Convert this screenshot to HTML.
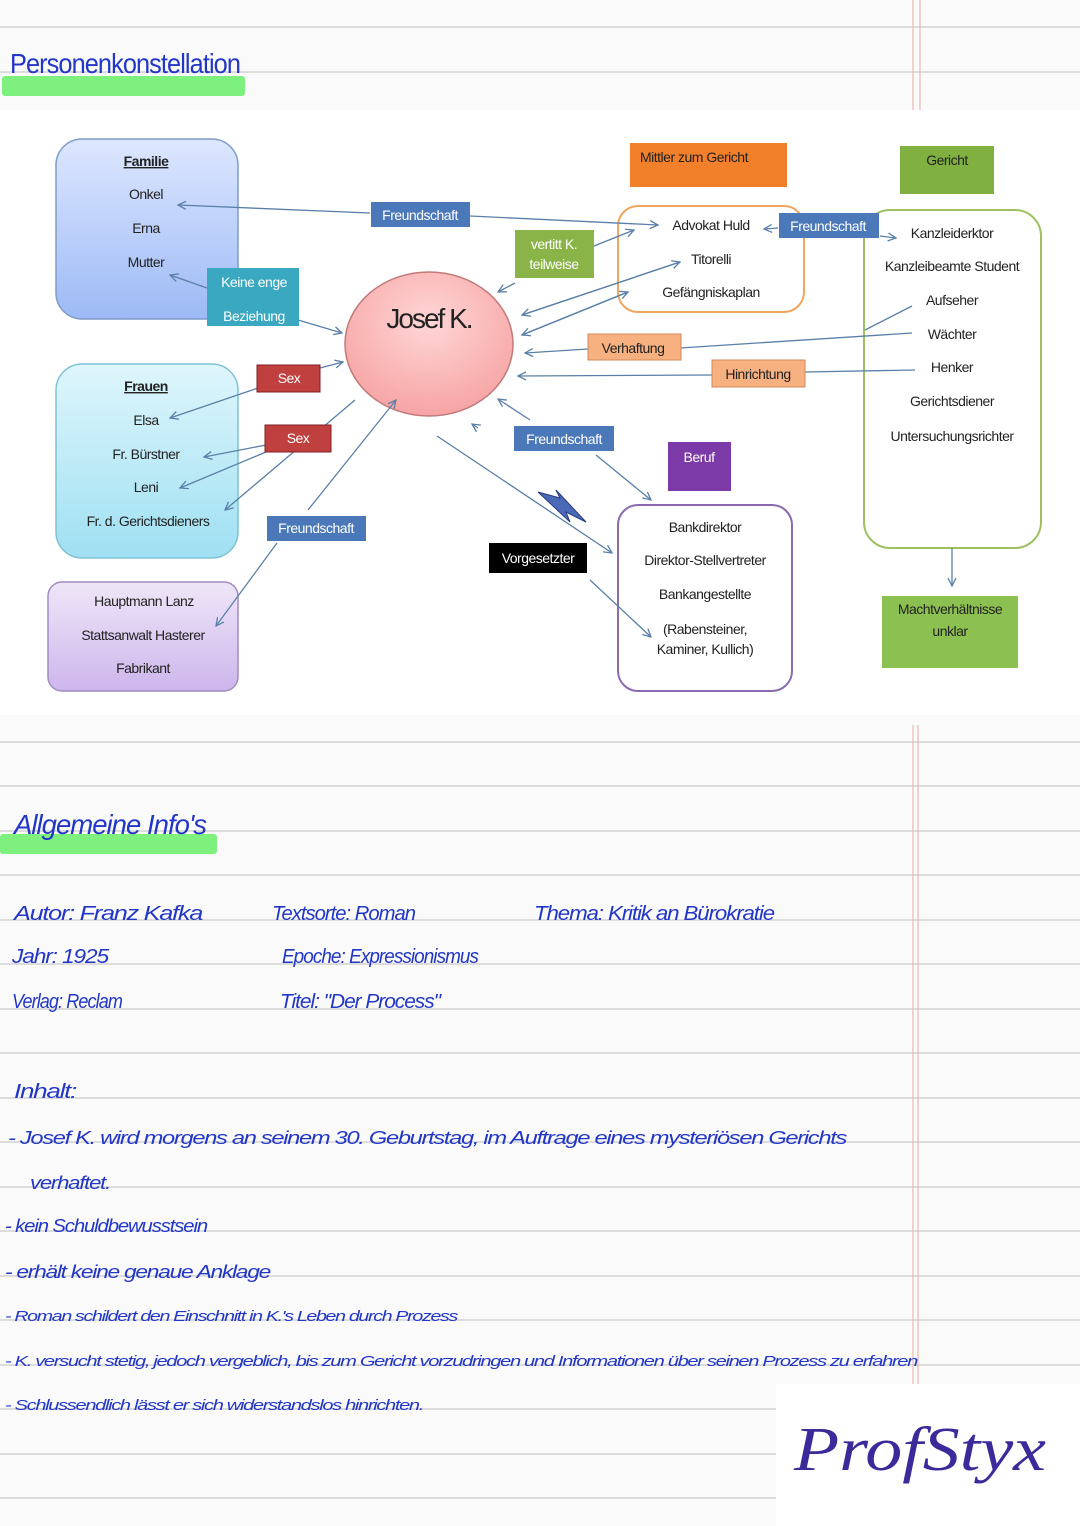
<!DOCTYPE html>
<html><head><meta charset="utf-8"><style>
html,body{margin:0;padding:0;background:#fafafa}
svg{display:block}
.t{font-family:"Liberation Sans",sans-serif;font-size:14px;fill:#222;letter-spacing:-0.5px}
.w{font-family:"Liberation Sans",sans-serif;font-size:14px;fill:#fff;letter-spacing:-0.5px}
.h{font-family:"Liberation Sans",sans-serif;font-style:italic;fill:#2236c8;font-size:20px;letter-spacing:-1px}
</style></head><body>
<svg width="1080" height="1526" viewBox="0 0 1080 1526" xmlns="http://www.w3.org/2000/svg">
<defs>
<marker id="a" markerWidth="10" markerHeight="10" refX="9" refY="5" orient="auto" markerUnits="userSpaceOnUse"><path d="M1,1 L9,5 L1,9" fill="none" stroke="#5a7fa8" stroke-width="1.3"/></marker>
<linearGradient id="fam" x1="0" y1="0" x2="0" y2="1"><stop offset="0" stop-color="#dde7ff"/><stop offset="1" stop-color="#9dbaf5"/></linearGradient>
<linearGradient id="fra" x1="0" y1="0" x2="0" y2="1"><stop offset="0" stop-color="#dff6fc"/><stop offset="1" stop-color="#9fe0f2"/></linearGradient>
<linearGradient id="hau" x1="0" y1="0" x2="0" y2="1"><stop offset="0" stop-color="#efe6f8"/><stop offset="1" stop-color="#cdb6ec"/></linearGradient>
<radialGradient id="jo" cx="0.5" cy="0.35" r="0.7"><stop offset="0" stop-color="#ffd6d6"/><stop offset="1" stop-color="#f6a0a0"/></radialGradient>
</defs>
<rect width="1080" height="1526" fill="#fafafa"/>
<g stroke="#dcdcdc" stroke-width="2">
<line x1="0" y1="27" x2="1080" y2="27"/><line x1="0" y1="72" x2="1080" y2="72"/>
</g>
<g stroke="#eab8b0" stroke-width="1.2"><line x1="913" y1="0" x2="913" y2="110"/><line x1="920" y1="0" x2="920" y2="110"/></g>
<rect x="0" y="110" width="1080" height="605" fill="#fff"/>
<g stroke="#dcdcdc" stroke-width="2">
<line x1="0" y1="742" x2="1080" y2="742"/><line x1="0" y1="786" x2="1080" y2="786"/><line x1="0" y1="831" x2="1080" y2="831"/><line x1="0" y1="875" x2="1080" y2="875"/><line x1="0" y1="920" x2="1080" y2="920"/><line x1="0" y1="964" x2="1080" y2="964"/><line x1="0" y1="1009" x2="1080" y2="1009"/><line x1="0" y1="1053" x2="1080" y2="1053"/><line x1="0" y1="1098" x2="1080" y2="1098"/><line x1="0" y1="1142" x2="1080" y2="1142"/><line x1="0" y1="1187" x2="1080" y2="1187"/><line x1="0" y1="1231" x2="1080" y2="1231"/><line x1="0" y1="1276" x2="1080" y2="1276"/><line x1="0" y1="1320" x2="1080" y2="1320"/><line x1="0" y1="1365" x2="1080" y2="1365"/><line x1="0" y1="1409" x2="1080" y2="1409"/><line x1="0" y1="1454" x2="1080" y2="1454"/><line x1="0" y1="1498" x2="1080" y2="1498"/>
</g>
<g stroke="#eab8b0" stroke-width="1.2"><line x1="913" y1="725" x2="913" y2="1526"/><line x1="918" y1="725" x2="918" y2="1526"/></g>

<!-- titles -->
<rect x="2" y="76" width="243" height="20" rx="3" fill="#7ef07e"/>
<text x="10" y="73" class="h" style="font-size:28px;font-style:normal" textLength="230" lengthAdjust="spacingAndGlyphs">Personenkonstellation</text>
<rect x="0" y="834" width="217" height="20" rx="3" fill="#7ef07e"/>
<text x="14" y="834" class="h" style="font-size:28px" textLength="192" lengthAdjust="spacingAndGlyphs">Allgemeine Info's</text>

<!-- diagram boxes -->
<rect x="56" y="139" width="182" height="180" rx="26" fill="url(#fam)" stroke="#7f9cc8" stroke-width="1.5"/>
<text x="146" y="166" class="t" text-anchor="middle" font-weight="bold" fill="#3a4a6a" text-decoration="underline">Familie</text>
<text x="146" y="199" class="t" text-anchor="middle">Onkel</text>
<text x="146" y="233" class="t" text-anchor="middle">Erna</text>
<text x="146" y="267" class="t" text-anchor="middle">Mutter</text>

<rect x="56" y="364" width="182" height="194" rx="26" fill="url(#fra)" stroke="#7fc2d2" stroke-width="1.5"/>
<text x="146" y="391" class="t" text-anchor="middle" font-weight="bold" fill="#3a4a6a" text-decoration="underline">Frauen</text>
<text x="146" y="425" class="t" text-anchor="middle">Elsa</text>
<text x="146" y="459" class="t" text-anchor="middle">Fr. Bürstner</text>
<text x="146" y="492" class="t" text-anchor="middle">Leni</text>
<text x="148" y="526" class="t" text-anchor="middle">Fr. d. Gerichtsdieners</text>

<rect x="48" y="582" width="190" height="109" rx="14" fill="url(#hau)" stroke="#a08cc0" stroke-width="1.5"/>
<text x="144" y="606" class="t" text-anchor="middle">Hauptmann Lanz</text>
<text x="143" y="640" class="t" text-anchor="middle">Stattsanwalt Hasterer</text>
<text x="143" y="673" class="t" text-anchor="middle">Fabrikant</text>

<ellipse cx="429" cy="344" rx="84" ry="72" fill="url(#jo)" stroke="#c07a7a" stroke-width="1.5"/>
<text x="429" y="328" class="t" text-anchor="middle" style="font-size:28px;letter-spacing:-2px">Josef K.</text>

<rect x="630" y="143" width="157" height="44" fill="#f2802a"/>
<text x="640" y="162" class="t">Mittler zum Gericht</text>
<rect x="900" y="146" width="94" height="48" fill="#7fb040"/>
<text x="947" y="165" class="t" text-anchor="middle">Gericht</text>
<rect x="668" y="442" width="63" height="49" fill="#7b3aa8"/>
<text x="699" y="462" class="w" text-anchor="middle">Beruf</text>

<rect x="618" y="206" width="186" height="106" rx="20" fill="#fff" stroke="#f0a560" stroke-width="2"/>
<text x="711" y="230" class="t" text-anchor="middle">Advokat Huld</text>
<text x="711" y="264" class="t" text-anchor="middle">Titorelli</text>
<text x="711" y="297" class="t" text-anchor="middle">Gefängniskaplan</text>

<rect x="864" y="210" width="177" height="338" rx="26" fill="#fff" stroke="#9ec060" stroke-width="2"/>
<text x="952" y="238" class="t" text-anchor="middle">Kanzleiderktor</text>
<text x="952" y="271" class="t" text-anchor="middle">Kanzleibeamte Student</text>
<text x="952" y="305" class="t" text-anchor="middle">Aufseher</text>
<text x="952" y="339" class="t" text-anchor="middle">Wächter</text>
<text x="952" y="372" class="t" text-anchor="middle">Henker</text>
<text x="952" y="406" class="t" text-anchor="middle">Gerichtsdiener</text>
<text x="952" y="441" class="t" text-anchor="middle">Untersuchungsrichter</text>

<rect x="618" y="505" width="174" height="186" rx="20" fill="#fff" stroke="#8a6ab0" stroke-width="2"/>
<text x="705" y="532" class="t" text-anchor="middle">Bankdirektor</text>
<text x="705" y="565" class="t" text-anchor="middle">Direktor-Stellvertreter</text>
<text x="705" y="599" class="t" text-anchor="middle">Bankangestellte</text>
<text x="705" y="634" class="t" text-anchor="middle">(Rabensteiner,</text>
<text x="705" y="654" class="t" text-anchor="middle">Kaminer, Kullich)</text>

<rect x="882" y="596" width="136" height="72" fill="#8cc050"/>
<text x="950" y="614" class="t" text-anchor="middle">Machtverhältnisse</text>
<text x="950" y="636" class="t" text-anchor="middle">unklar</text>

<!-- connectors -->
<g stroke="#5a7fa8" stroke-width="1.3" fill="none">
<line x1="370" y1="213" x2="178" y2="205" marker-end="url(#a)"/>
<line x1="470" y1="216" x2="658" y2="225" marker-end="url(#a)"/>
<line x1="207" y1="288" x2="170" y2="275" marker-end="url(#a)"/>
<line x1="298" y1="320" x2="342" y2="333" marker-end="url(#a)"/>
<line x1="515" y1="283" x2="498" y2="292" marker-end="url(#a)"/>
<line x1="584" y1="250" x2="634" y2="230" marker-end="url(#a)"/>
<line x1="680" y1="262" x2="522" y2="315" marker-end="url(#a)"/>
<line x1="522" y1="315" x2="680" y2="262" marker-end="url(#a)"/>
<line x1="628" y1="292" x2="522" y2="335" marker-end="url(#a)"/>
<line x1="522" y1="335" x2="628" y2="292" marker-end="url(#a)"/>
<line x1="588" y1="349" x2="525" y2="353" marker-end="url(#a)"/>
<line x1="680" y1="348" x2="912" y2="333"/>
<line x1="865" y1="330" x2="912" y2="306"/>
<line x1="712" y1="375" x2="518" y2="376" marker-end="url(#a)"/>
<line x1="805" y1="372" x2="915" y2="370"/>
<line x1="778" y1="228" x2="764" y2="229" marker-end="url(#a)"/>
<line x1="880" y1="236" x2="896" y2="238" marker-end="url(#a)"/>
<line x1="320" y1="368" x2="343" y2="362" marker-end="url(#a)"/>
<line x1="258" y1="388" x2="170" y2="418" marker-end="url(#a)"/>
<line x1="355" y1="400" x2="225" y2="510" marker-end="url(#a)"/>
<line x1="266" y1="445" x2="204" y2="457" marker-end="url(#a)"/>
<line x1="266" y1="452" x2="180" y2="488" marker-end="url(#a)"/>
<line x1="308" y1="510" x2="396" y2="400" marker-end="url(#a)"/>
<line x1="277" y1="543" x2="216" y2="626" marker-end="url(#a)"/>
<line x1="530" y1="420" x2="498" y2="399" marker-end="url(#a)"/>
<line x1="596" y1="455" x2="651" y2="500" marker-end="url(#a)"/>
<line x1="437" y1="436" x2="612" y2="553" marker-end="url(#a)"/>
<line x1="478" y1="428" x2="472" y2="424" marker-end="url(#a)"/>
<line x1="590" y1="580" x2="651" y2="637" marker-end="url(#a)"/>
<line x1="952" y1="548" x2="952" y2="586" marker-end="url(#a)"/>
</g>
<path d="M538,492 L560,498 L556,490 L586,522 L566,512 L570,522 Z" fill="#4a6ab8" stroke="#2a3a80"/>

<!-- labels -->
<rect x="371" y="202" width="99" height="25" fill="#4a78b8"/><text x="420" y="220" class="w" text-anchor="middle">Freundschaft</text>
<rect x="207" y="268" width="92" height="58" fill="#3aa8c0"/><text x="254" y="287" class="w" text-anchor="middle">Keine enge</text><text x="254" y="321" class="w" text-anchor="middle">Beziehung</text>
<rect x="515" y="230" width="79" height="48" fill="#8ab448"/><text x="554" y="249" class="w" text-anchor="middle">vertitt K.</text><text x="554" y="269" class="w" text-anchor="middle">teilweise</text>
<rect x="779" y="213" width="100" height="25" fill="#4a78b8"/><text x="828" y="231" class="w" text-anchor="middle">Freundschaft</text>
<rect x="588" y="334" width="93" height="26" fill="#f7b080" stroke="#d08a58"/><text x="633" y="353" class="t" text-anchor="middle">Verhaftung</text>
<rect x="712" y="360" width="93" height="27" fill="#f7b080" stroke="#d08a58"/><text x="758" y="379" class="t" text-anchor="middle">Hinrichtung</text>
<rect x="257" y="365" width="63" height="27" fill="#c04040" stroke="#802020"/><text x="289" y="383" class="w" text-anchor="middle">Sex</text>
<rect x="265" y="425" width="66" height="27" fill="#c04040" stroke="#802020"/><text x="298" y="443" class="w" text-anchor="middle">Sex</text>
<rect x="514" y="426" width="100" height="25" fill="#4a78b8"/><text x="564" y="444" class="w" text-anchor="middle">Freundschaft</text>
<rect x="267" y="516" width="99" height="25" fill="#4a78b8"/><text x="316" y="533" class="w" text-anchor="middle">Freundschaft</text>
<rect x="489" y="543" width="98" height="30" fill="#000"/><text x="538" y="563" class="w" text-anchor="middle">Vorgesetzter</text>

<!-- handwritten info -->
<text x="14" y="920" class="h" textLength="188" lengthAdjust="spacingAndGlyphs">Autor: Franz Kafka</text>
<text x="272" y="920" class="h" textLength="143" lengthAdjust="spacingAndGlyphs">Textsorte: Roman</text>
<text x="534" y="920" class="h" textLength="240" lengthAdjust="spacingAndGlyphs">Thema: Kritik an Bürokratie</text>
<text x="12" y="963" class="h" textLength="96" lengthAdjust="spacingAndGlyphs">Jahr: 1925</text>
<text x="282" y="963" class="h" textLength="196" lengthAdjust="spacingAndGlyphs">Epoche: Expressionismus</text>
<text x="12" y="1008" class="h" textLength="110" lengthAdjust="spacingAndGlyphs">Verlag: Reclam</text>
<text x="280" y="1008" class="h" textLength="160" lengthAdjust="spacingAndGlyphs">Titel: "Der Process"</text>
<text x="14" y="1098" class="h" textLength="62" lengthAdjust="spacingAndGlyphs">Inhalt:</text>
<text x="8" y="1144" class="h" style="font-size:18px" textLength="838" lengthAdjust="spacingAndGlyphs">- Josef K.  wird morgens an seinem 30. Geburtstag, im Auftrage eines mysteriösen Gerichts</text>
<text x="30" y="1189" class="h" style="font-size:18px" textLength="80" lengthAdjust="spacingAndGlyphs">verhaftet.</text>
<text x="5" y="1232" class="h" style="font-size:18px" textLength="202" lengthAdjust="spacingAndGlyphs">- kein Schuldbewusstsein</text>
<text x="5" y="1278" class="h" style="font-size:18px" textLength="265" lengthAdjust="spacingAndGlyphs">- erhält keine genaue Anklage</text>
<text x="5" y="1321" class="h" style="font-size:15px" textLength="452" lengthAdjust="spacingAndGlyphs">- Roman schildert den Einschnitt in K.'s Leben durch Prozess</text>
<text x="5" y="1366" class="h" style="font-size:15px" textLength="912" lengthAdjust="spacingAndGlyphs">- K. versucht stetig, jedoch vergeblich, bis zum Gericht vorzudringen und Informationen über seinen Prozess zu erfahren</text>
<text x="5" y="1410" class="h" style="font-size:15px" textLength="418" lengthAdjust="spacingAndGlyphs">- Schlussendlich lässt er sich widerstandslos hinrichten.</text>

<rect x="776" y="1384" width="304" height="142" fill="#fff"/>
<text x="794" y="1470" style="font-family:'Liberation Serif',serif;font-style:italic;font-size:62px;fill:#3b2a9a" textLength="252" lengthAdjust="spacingAndGlyphs">ProfStyx</text>
</svg>
</body></html>
